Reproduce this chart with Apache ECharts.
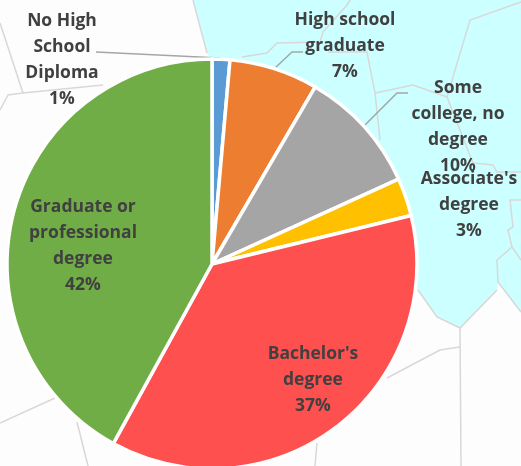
<!DOCTYPE html>
<html>
<head>
<meta charset="utf-8">
<style>
  html, body { margin: 0; padding: 0; background: #fdfdfd; }
  #chart { width: 521px; height: 466px; }
</style>
<script src="https://cdn.jsdelivr.net/npm/echarts@6/dist/echarts.min.js"></script>
</head>
<body>
<div id="chart"></div>
<script>
const categories = ['No High\nSchool\nDiploma', 'High school\ngraduate', 'Some\ncollege, no\ndegree', "Associate's\ndegree", "Bachelor's\ndegree", 'Graduate or\nprofessional\ndegree'];
const shares = [1.4, 7.0, 9.8, 3.0, 36.8, 42.0];
const colors = ['#5B9BD5', '#ED7D31', '#A5A5A5', '#FFC000', '#FF5050', '#70AD47'];

// label centres and leader lines, by slice
const labelSpots = [[62, 60], [345, 46], [458, 127], [469, 205], [313, 380], [83, 246]];
const leaders = [
  [[96, 52], [158, 55], [220, 58]],
  [[303, 52], [292, 52], [275, 68]],
  [[408, 93], [397, 93], [365, 125]],
  null, null, null
];

// pale map behind the pie
const waterEdge = [[193, 0], [207, 53], [214, 62], [418, 290], [437, 317], [460, 328], [497, 290], [498, 282], [521, 312], [521, 0]];
const borders = [
  [[350, 0], [347, 5], [323, 32], [320, 42], [277, 43], [267, 53], [242, 57]],
  [[328, 52], [367, 52], [375, 93], [380, 140]],
  [[521, 2], [470, 20], [447, 97], [473, 163], [493, 165], [497, 172], [521, 172]],
  [[375, 93], [413, 85], [447, 97]],
  [[521, 200], [510, 200], [513, 227], [508, 230], [512, 247], [497, 260], [498, 282], [521, 312]],
  [[512, 247], [521, 260]],
  [[193, 0], [207, 53]],
  [[418, 290], [437, 317], [460, 328], [497, 290]],
  [[460, 328], [461, 466]],
  [[460, 347], [440, 350], [387, 378]],
  [[317, 443], [315, 466]],
  [[0, 423], [55, 398]],
  [[77, 422], [88, 466]],
  [[0, 23], [23, 93], [8, 95], [0, 110]],
  [[23, 93], [103, 85]]
];

const chart = echarts.init(document.getElementById('chart'));

const mapShapes = [{
  type: 'polygon',
  z: 0,
  shape: { points: waterEdge },
  style: { fill: '#CCFFFF' }
}].concat(borders.map(function (line) {
  return {
    type: 'polyline',
    z: 1,
    shape: { points: line },
    style: { stroke: '#D8D8D8', lineWidth: 1.5, fill: null }
  };
}));

chart.setOption({
  animation: false,
  backgroundColor: '#fdfdfd',
  graphic: { elements: mapShapes },
  series: [{
    type: 'pie',
    center: [212, 264],
    radius: 205,
    startAngle: 90,
    percentPrecision: 0,
    itemStyle: { borderColor: '#fff', borderWidth: 3.5 },
    label: {
      show: true,
      formatter: '{b}\n{d}%',
      fontFamily: '"Open Sans"',
      fontWeight: 'bold',
      fontSize: 17.5,
      lineHeight: 26,
      color: '#404040',
      align: 'center',
      width: 130,
      overflow: 'none'
    },
    labelLine: {
      show: true,
      lineStyle: { color: '#A6A6A6', width: 1.5 }
    },
    labelLayout: function (params) {
      const i = params.dataIndex;
      const out = {
        x: labelSpots[i][0],
        y: labelSpots[i][1],
        align: 'center',
        verticalAlign: 'middle'
      };
      if (leaders[i]) out.labelLinePoints = leaders[i];
      return out;
    },
    data: categories.map(function (name, i) {
      return {
        name: name,
        value: shares[i],
        itemStyle: { color: colors[i] },
        labelLine: { show: !!leaders[i] }
      };
    })
  }]
});
</script>
</body>
</html>
